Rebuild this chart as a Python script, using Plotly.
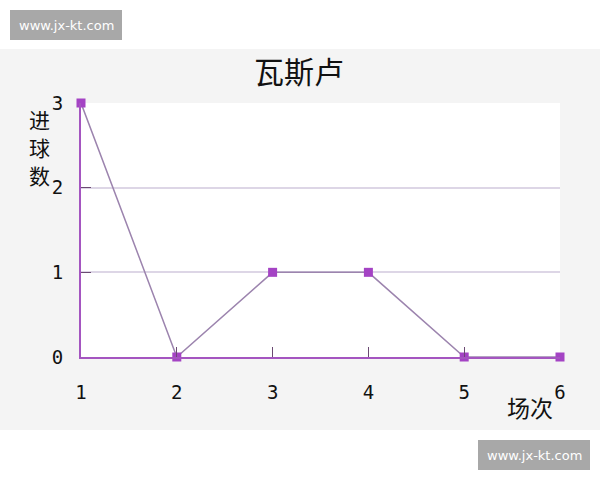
import plotly.graph_objects as go

# Data
matches = [1, 2, 3, 4, 5, 6]
goals = [3, 0, 1, 1, 0, 0]
x_ticks = [1, 2, 3, 4, 5, 6]
y_ticks = [0, 1, 2, 3]
title_text = "瓦斯卢"
y_title = "进球数"
x_title = "场次"
watermark = "www.jx-kt.com"

W, H = 600, 480
L, R, T, B = 81, 40, 103, 123
PW, PH = W - L - R, H - T - B


def px(x):
    return (x - L) / PW


def py(y):
    return (H - B - y) / PH


fig = go.Figure()
fig.add_trace(go.Scatter(
    x=matches, y=goals, mode="lines+markers",
    line=dict(color="#9c84ae", width=1.5),
    marker=dict(symbol="square", size=9, color="#a443c4"),
    cliponaxis=False, showlegend=False,
))

shapes = [
    dict(type="rect", xref="paper", yref="paper", x0=px(0), x1=px(W), y0=py(0), y1=py(49),
         fillcolor="white", line=dict(width=0), layer="below"),
    dict(type="rect", xref="paper", yref="paper", x0=px(0), x1=px(W), y0=py(430), y1=py(H),
         fillcolor="white", line=dict(width=0), layer="below"),
    dict(type="rect", xref="paper", yref="paper", x0=px(10), x1=px(122), y0=py(10), y1=py(40),
         fillcolor="#a8a8a8", line=dict(width=0), layer="above"),
    dict(type="rect", xref="paper", yref="paper", x0=px(478), x1=px(590), y0=py(440), y1=py(470),
         fillcolor="#a8a8a8", line=dict(width=0), layer="above"),
]

annotations = [
    dict(text=title_text, xref="paper", yref="paper", x=px(299), y=py(70), showarrow=False,
         font=dict(family="Noto Sans CJK SC", size=30, color="#111"), xanchor="center", yanchor="middle"),
    dict(text=x_title, xref="paper", yref="paper", x=px(530), y=py(407), showarrow=False,
         font=dict(family="Noto Sans CJK SC", size=23, color="#111"), xanchor="center", yanchor="middle"),
    dict(text=watermark, xref="paper", yref="paper", x=px(66), y=py(25), showarrow=False,
         font=dict(family="DejaVu Sans", size=13, color="white"), xanchor="center", yanchor="middle"),
    dict(text=watermark, xref="paper", yref="paper", x=px(534), y=py(455), showarrow=False,
         font=dict(family="DejaVu Sans", size=13, color="white"), xanchor="center", yanchor="middle"),
]
for i, ch in enumerate(y_title):
    annotations.append(dict(
        text=ch, xref="paper", yref="paper", x=px(39), y=py(119 + 28 * i), showarrow=False,
        font=dict(family="Noto Sans CJK SC", size=21, color="#111"), xanchor="center", yanchor="middle"))

fig.update_layout(
    width=W, height=H,
    margin=dict(l=L, r=R, t=T, b=B),
    paper_bgcolor="#f4f4f4", plot_bgcolor="white",
    shapes=shapes, annotations=annotations,
    font=dict(family="DejaVu Sans Mono", size=19, color="#111"),
)
fig.update_xaxes(
    range=[1, 6], tickvals=x_ticks, ticktext=[str(v) for v in x_ticks],
    showgrid=False, zeroline=False,
    showline=True, linecolor="#a455c0", linewidth=2,
    ticks="inside", ticklen=10, tickcolor="#6a4a72", tickwidth=1,
    ticklabelstandoff=17,
)
fig.update_yaxes(
    range=[0, 3], tickvals=y_ticks, ticktext=[str(v) for v in y_ticks],
    showgrid=True, gridcolor="#ddd6e6", gridwidth=1.5, zeroline=False,
    showline=True, linecolor="#a455c0", linewidth=2,
    ticks="inside", ticklen=10, tickcolor="#6a4a72", tickwidth=1,
    ticklabelstandoff=12,
)

fig.write_html("out.html", config={"displayModeBar": False},
               post_script="document.body.style.margin='0';document.body.style.padding='0';")
